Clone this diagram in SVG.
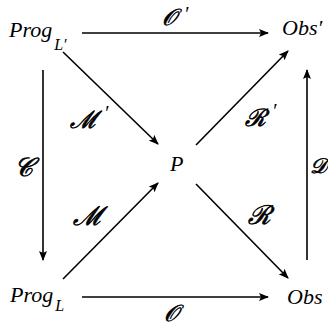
<svg xmlns="http://www.w3.org/2000/svg" width="328" height="327" viewBox="0 0 328 327">
<style>
.t{font-family:"Liberation Serif","DejaVu Serif",serif;font-style:italic;fill:#000}
.n{font-size:22px}
.s{font-size:16px}
.l{font-size:26px;stroke:#000;stroke-width:0.7}
.pr{font-family:"Liberation Serif",serif;font-size:20px;font-style:italic;fill:#000}
.c{stroke:#000;stroke-width:1.6;fill:none}
</style>
<defs>
<marker id="a" viewBox="0 0 10 8" refX="9" refY="4" markerWidth="10" markerHeight="8" markerUnits="userSpaceOnUse" orient="auto">
<path d="M0,0 L10,4 L0,8 L2,4 Z" fill="#000"/>
</marker>
</defs>
<rect width="328" height="327" fill="#fff"/>
<g id="connectors">
<line class="c" x1="82" y1="33" x2="268" y2="33" marker-end="url(#a)"/>
<line class="c" x1="82" y1="297" x2="268" y2="297" marker-end="url(#a)"/>
<line class="c" x1="43" y1="70" x2="43" y2="260" marker-end="url(#a)"/>
<line class="c" x1="307" y1="260" x2="307" y2="70" marker-end="url(#a)"/>
<line class="c" x1="63" y1="52" x2="158" y2="144" marker-end="url(#a)"/>
<line class="c" x1="63" y1="279" x2="158" y2="183" marker-end="url(#a)"/>
<line class="c" x1="196" y1="145" x2="288" y2="51" marker-end="url(#a)"/>
<line class="c" x1="196" y1="184" x2="288" y2="278" marker-end="url(#a)"/>
<text class="t l" style="font-size:23px" x="162" y="25">𝒪</text><text class="pr" x="184" y="21">′</text>
<text class="t l" style="font-size:23px" x="164" y="321">𝒪</text>
<text class="t l" x="14" y="176">𝒞</text>
<text class="t l" style="font-size:21px" x="310" y="173">𝒟</text>
<text class="t l" style="font-size:24px" x="70" y="128">ℳ</text><text class="pr" x="104" y="120">′</text>
<text class="t l" x="73" y="225">ℳ</text>
<text class="t l" style="font-size:24px" x="245" y="126">ℛ</text><text class="pr" x="272" y="118">′</text>
<text class="t l" x="248" y="224">ℛ</text>
</g>
<g id="progLp"><text class="t n" x="9" y="37">Prog<tspan class="s" dx="2" dy="13">L′</tspan></text></g>
<g id="progL"><text class="t n" x="10" y="302">Prog<tspan class="s" dx="2" dy="9">L</tspan></text></g>
<g id="obsp"><text class="t n" x="282" y="35">Obs′</text></g>
<g id="obs"><text class="t n" x="287" y="304">Obs</text></g>
<g id="p"><text class="t n" x="170" y="171">P</text></g>
</svg>
